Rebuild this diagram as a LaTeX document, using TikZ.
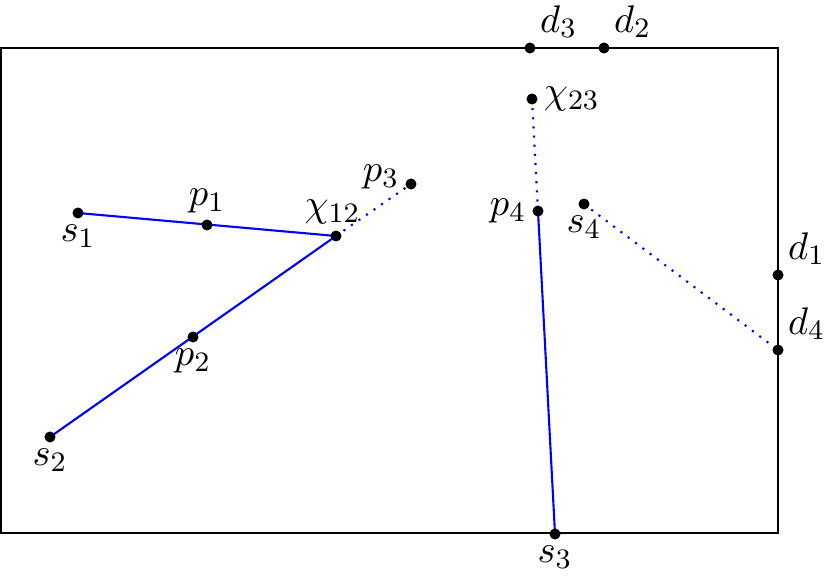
\documentclass[tikz,border=0pt]{standalone}
\begin{document}
\begin{tikzpicture}[x=0.01cm,y=-0.01cm,
  pt/.style={circle,fill=black,inner sep=0pt,minimum size=3pt},
  solidlink/.style={blue,line width=0.6pt},
  dotlink/.style={blue,dotted,line width=0.6pt},
  every label/.style={inner sep=1.5pt,font=\fontsize{11.2}{13}\selectfont},
  label distance=0pt]
\useasboundingbox (0,0) rectangle (830,576);
\draw[line width=0.6pt] (1,48) rectangle (778,533);
\node[pt,label=below:$s_1$] (s1) at (78,213) {};
\node[pt,label=above:$p_1$] (p1) at (207,225) {};
\node[pt,label={[xshift=-1pt]above:$\chi_{12}$}] (c12) at (336,236) {};
\node[pt,label={[yshift=2pt]left:$p_3$}] (p3) at (411,184) {};
\node[pt,label=below:$p_2$] (p2) at (193,337) {};
\node[pt,label=below:$s_2$] (s2) at (50,437) {};
\node[pt,label=above right:$d_3$] (d3) at (530,48) {};
\node[pt,label=above right:$d_2$] (d2) at (604,48) {};
\node[pt,label=right:$\chi_{23}$] (c23) at (532,99) {};
\node[pt,label=left:$p_4$] (p4) at (538,211) {};
\node[pt,label=below:$s_4$] (s4) at (584,204) {};
\node[pt,label=above right:$d_1$] (d1) at (778,275) {};
\node[pt,label=above right:$d_4$] (d4) at (778,350) {};
\node[pt,label=below:$s_3$] (s3) at (555,534) {};
\draw[solidlink] (s1.center) -- (c12.center);
\draw[solidlink] (s2.center) -- (c12.center);
\draw[dotlink] (c12.center) -- (p3.center);
\draw[dotlink] (c23.center) -- (p4.center);
\draw[solidlink] (p4.center) -- (s3.center);
\draw[dotlink] (s4.center) -- (d4.center);
\foreach \n in {s1,p1,c12,p3,p2,s2,d3,d2,c23,p4,s4,d1,d4,s3}
  \fill (\n) circle (1.55pt);
\end{tikzpicture}
\end{document}
